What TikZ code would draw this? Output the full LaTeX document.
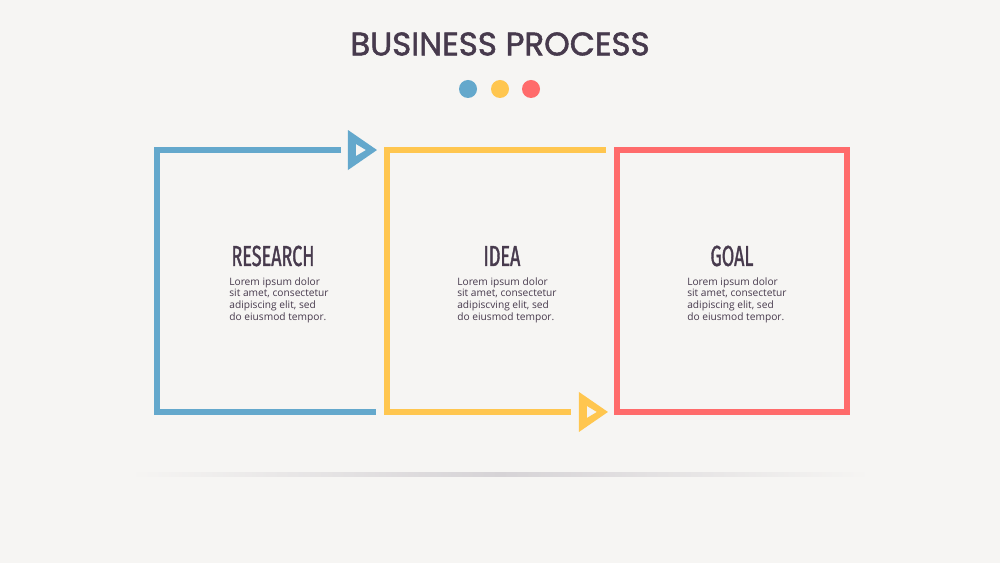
\documentclass[tikz,border=0pt]{standalone}
\usepackage{fontspec}
\setmainfont{Open Sans}
\newfontfamily\titlefont[FakeBold=1.6]{Poppins}
\newfontfamily\headfont[FakeStretch=0.62, FakeBold=1.2]{Fira Sans}
\usetikzlibrary{positioning}

\definecolor{bgcol}{HTML}{F6F5F3}
\definecolor{inkcol}{HTML}{473A4D}
\definecolor{bluecol}{HTML}{64A8CC}
\definecolor{yellowcol}{HTML}{FFC64F}
\definecolor{redcol}{HTML}{FF6B6B}
\definecolor{shadecol}{HTML}{D6D3D6}

\tikzset{
    box/.style={minimum width=4.6cm, minimum height=5.24cm, inner sep=0pt, outer sep=0pt},
    frame/.style={line width=3.4pt, line join=miter},
    heading/.style={font=\headfont\fontsize{16.5}{18}\selectfont, text=inkcol},
    body/.style={font=\fontsize{5.8}{6.6}\selectfont, text=inkcol, align=left, inner sep=0pt}
}

% hollow arrow triangle, tip at #2
\newcommand{\arrowtri}[2]{%
    \fill[#1, even odd rule]
        ([shift={(-29,-20)}]#2) -- (#2) -- ([shift={(-29,20)}]#2) -- cycle
        ([shift={(-21,-6)}]#2) -- ([shift={(-11,0)}]#2) -- ([shift={(-21,6)}]#2) -- cycle;
}

\begin{document}
\begin{tikzpicture}[x=0.02cm, y=-0.02cm]

\useasboundingbox[fill=bgcol] (0,0) rectangle (1000,563);

% =========================================================
% Title
% =========================================================

\node[font=\titlefont\fontsize{18.5}{20}\selectfont, text=inkcol] (title) at (500,44) {BUSINESS PROCESS};

\fill[bluecol]   (468,89) circle (9);
\fill[yellowcol] (500,89) circle (9);
\fill[redcol]    (531,89) circle (9);

% =========================================================
% Boxes
% =========================================================

\node[box] (research) at (272,281) {};
\node[box, right=0cm of research] (idea) {};
\node[box, right=0cm of idea] (goal) {};

% blue frame
\draw[frame, bluecol] ([shift={(184,0)}]research.north west) -- (research.north west)
    -- (research.south west) -- ([shift={(219,0)}]research.south west);
\coordinate (tipA) at ([shift={(-10,0)}]idea.north west);
\arrowtri{bluecol}{tipA}

% yellow frame
\draw[frame, yellowcol] ([shift={(219,0)}]idea.north west) -- (idea.north west)
    -- (idea.south west) -- ([shift={(184,0)}]idea.south west);
\coordinate (tipB) at ([shift={(-9,0)}]goal.south west);
\arrowtri{yellowcol}{tipB}

% red frame
\draw[frame, redcol] (goal.north west) rectangle (goal.south east);

% =========================================================
% Texts
% =========================================================

\node[heading] (research-title) at ([shift={(1,-25)}]research.center) {RESEARCH};
\node[body] (research-text) at ([shift={(7,19)}]research.center)
    {Lorem ipsum dolor\\sit amet, consectetur\\adipiscing elit, sed\\do eiusmod tempor.};

\node[heading] (idea-title) at ([shift={(0,-25)}]idea.center) {IDEA};
\node[body] (idea-text) at ([shift={(5,19)}]idea.center)
    {Lorem ipsum dolor\\sit amet, consectetur\\adipiscving elit, sed\\do eiusmod tempor.};

\node[heading] (goal-title) at ([shift={(0,-25)}]goal.center) {GOAL};
\node[body] (goal-text) at ([shift={(5,19)}]goal.center)
    {Lorem ipsum dolor\\sit amet, consectetur\\adipiscing elit, sed\\do eiusmod tempor.};

% =========================================================
% Shadow
% =========================================================

\shade[left color=bgcol, right color=bgcol, middle color=shadecol] (130,472) rectangle (870,476);

\end{tikzpicture}
\end{document}
